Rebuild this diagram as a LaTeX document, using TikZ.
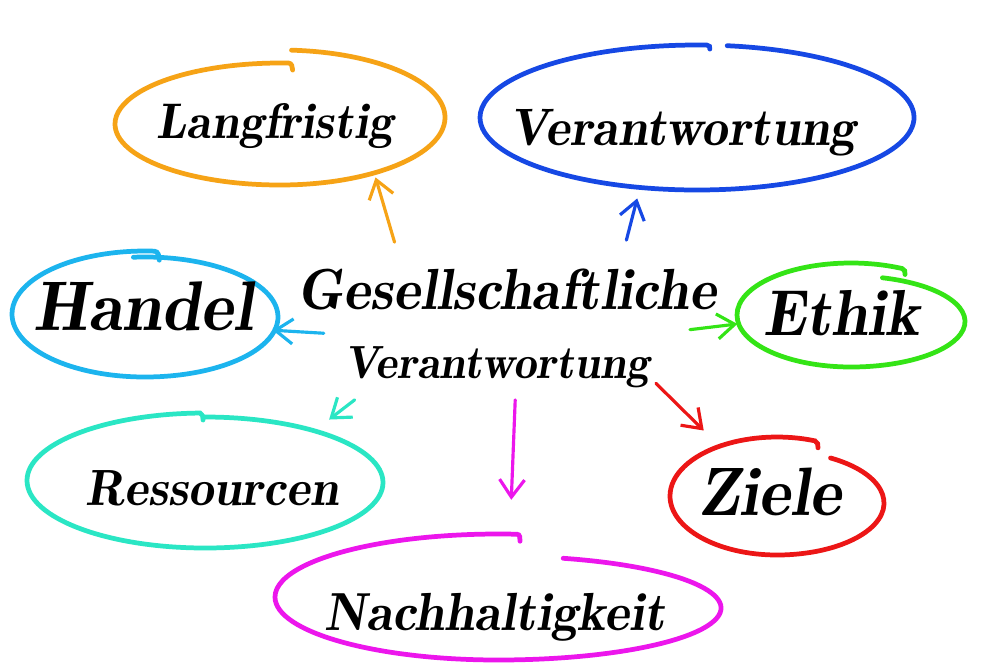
\documentclass[tikz,border=0pt]{standalone}
\usepackage{fontspec}
\usetikzlibrary{shapes.geometric,arrows.meta}

\definecolor{langorange}{RGB}{246,163,22}
\definecolor{verblue}{RGB}{22,72,228}
\definecolor{handelblue}{RGB}{28,180,238}
\definecolor{ethikgreen}{RGB}{52,228,22}
\definecolor{resturq}{RGB}{42,230,196}
\definecolor{zielered}{RGB}{236,22,22}
\definecolor{nacmagenta}{RGB}{236,22,236}

\begin{document}
\begin{tikzpicture}[x=0.02cm,y=-0.02cm,
  bubble/.style={ellipse,inner sep=0pt},
  rim/.style={draw=#1,line width=2.7pt,line cap=round},
  hand/.style={font=\fontseries{b}\itshape\fontsize{#1}{#1}\selectfont,anchor=base,inner sep=0pt},
  arr/.style={draw=#1,line width=1.8pt,line cap=round,-{Straight Barb[length=3.5mm,width=5mm]}}]
\fill[white] (0,0) rectangle (1000,667);
\useasboundingbox (0,0) rectangle (1000,667);

% bubbles (anchors only)
\node[bubble,minimum width=6.6cm,minimum height=2.8cm] (lang) at (280,120) {};
\node[bubble,minimum width=8.72cm,minimum height=2.92cm] (ver) at (697,118) {};
\node[bubble,minimum width=5.32cm,minimum height=2.8cm] (han) at (145,310) {};
\node[bubble,minimum width=4.56cm,minimum height=2.12cm] (eth) at (851,318) {};
\node[bubble,minimum width=7.12cm,minimum height=2.68cm] (res) at (205,481) {};
\node[bubble,minimum width=4.28cm,minimum height=2.2cm] (zie) at (777,500) {};
\node[bubble,minimum width=8.92cm,minimum height=2.4cm] (nac) at (498,600) {};

% hand drawn rims, open at the top
\draw[rim=langorange] (280,117.5) ++(-86:165 and 67.5)
  arc[start angle=-86,end angle=90,x radius=165,y radius=67.5]
  arc[start angle=90,end angle=273,x radius=165,y radius=61]
  .. controls +(3,0) and +(0,-3) .. ++(4,7);
\draw[rim=verblue] (697,117.5) ++(-82:217 and 72.5)
  arc[start angle=-82,end angle=90,x radius=217,y radius=72.5]
  arc[start angle=90,end angle=272.6,x radius=217,y radius=72.5]
  .. controls +(3,0) and +(0,-2) .. ++(3,4);
\draw[rim=handelblue] (145,317) ++(-95:133 and 60)
  arc[start angle=-95,end angle=90,x radius=133,y radius=60]
  arc[start angle=90,end angle=274,x radius=133,y radius=63]
  .. controls +(4,0) and +(0,-4) .. ++(5,9);
\draw[rim=ethikgreen] (851,321.5) ++(-74:114 and 45.5)
  arc[start angle=-74,end angle=90,x radius=114,y radius=45.5]
  arc[start angle=90,end angle=296.6,x radius=114,y radius=52]
  .. controls +(3,1) and +(0,-3) .. ++(3,6);
\draw[rim=resturq] (205,482.5) ++(-90:178 and 65.5)
  arc[start angle=-90,end angle=90,x radius=178,y radius=65.5]
  arc[start angle=90,end angle=268.4,x radius=178,y radius=67.5]
  .. controls +(3,1) and +(0,-3) .. ++(3,7);
\draw[rim=zielered] (777,503) ++(-60:107 and 52)
  arc[start angle=-60,end angle=90,x radius=107,y radius=52]
  arc[start angle=90,end angle=290.8,x radius=107,y radius=59]
  .. controls +(3,1) and +(0,-3) .. ++(3,7);
\draw[rim=nacmagenta] (498,608) ++(-73:223 and 52)
  arc[start angle=-73,end angle=90,x radius=223,y radius=52]
  arc[start angle=90,end angle=274.9,x radius=223,y radius=63]
  .. controls +(3,0) and +(0,-3) .. ++(3,7);

% texts
\node[hand=28.5] (lang-t) at (275,138) {Langfristig};
\node[hand=30] (ver-t) at (683,145) {Verantwortung};
\node[hand=40] (han-t) at (143,330) {Handel};
\node[hand=37] (eth-t) at (842,335) {Ethik};
\node[hand=29] (res-t) at (212,505) {Ressourcen};
\node[hand=39] (zie-t) at (770,515) {Ziele};
\node[hand=30.5] (nac-t) at (495,630) {Nachhaltigkeit};

% centre
\node[minimum width=8.6cm,minimum height=1.4cm,inner sep=0pt,
  font=\fontseries{b}\itshape\fontsize{33}{33}\selectfont] (gs) at (507,290) {Gesellschaftliche};
\node[minimum width=6.1cm,minimum height=1.3cm,inner sep=0pt,
  font=\fontseries{b}\itshape\fontsize{26.5}{26.5}\selectfont] (vw) at (497,367) {Verantwortung};

% arrows
\draw[arr=langorange,shorten <=0.26cm] (gs.162) -- (lang.-31);
\draw[arr=verblue,shorten <=0.3cm,shorten >=0.2cm] (gs.17.5) -- (ver.-129);
\draw[arr=handelblue,shorten <=0.4cm] (vw.168) -- (han.-9);
\draw[arr=ethikgreen,shorten <=0.8cm] (vw.12) -- (eth.183.5);
\draw[arr=resturq,shorten >=0.3cm] (vw.193.5) -- (res.25);
\draw[arr=nacmagenta,shorten >=0.8cm] (vw.-61) -- (nac.79);
\draw[arr=zielered,shorten <=0.16cm,shorten >=0.6cm] (vw.-4) -- (zie.137.7);
\end{tikzpicture}
\end{document}
